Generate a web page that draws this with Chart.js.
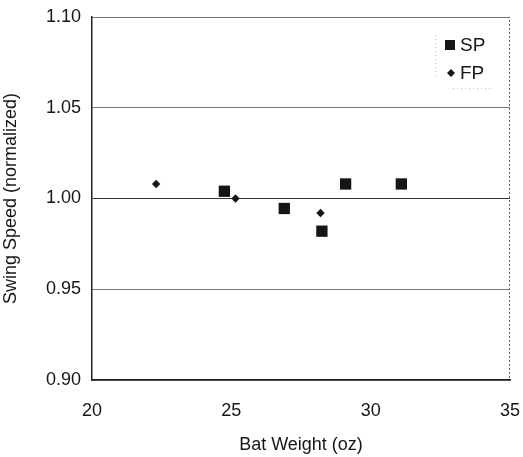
<!DOCTYPE html>
<html>
<head>
<meta charset="utf-8">
<script src="https://cdn.jsdelivr.net/npm/chart.js@4"></script>
<style>
  body { margin: 0; background: #fff; }
  #wrap { width: 523px; height: 457px; }
</style>
</head>
<body>
<div id="wrap"><canvas id="swingChart"></canvas></div>
<script>
// bat weight (oz) vs normalized swing speed
const spWeight = [24.75, 26.9, 28.25, 29.1, 31.1];
const spSpeed = [1.004, 0.9945, 0.982, 1.008, 1.008];
const fpWeight = [22.3, 25.15, 28.2];
const fpSpeed = [1.008, 1.000, 0.992];

const xTicks = [20, 25, 30, 35];
const yTicks = [0.90, 0.95, 1.00, 1.05, 1.10];

const toPoints = (xs, ys) => xs.map((x, i) => ({ x: x, y: ys[i] }));

const ink = '#161616';
const fontFam = '"Liberation Sans", Arial, sans-serif';

// legend drawn inside the plot, top right
const boxLegend = {
  id: 'boxLegend',
  afterDraw(chart) {
    const ctx = chart.ctx;
    const area = chart.chartArea;
    const x0 = area.right - 75, y0 = area.top + 8;
    ctx.save();
    ctx.strokeStyle = '#bbb';
    ctx.setLineDash([1, 3]);
    ctx.lineWidth = 1;
    ctx.beginPath();
    ctx.moveTo(x0 + 0.5, y0 + 10);
    ctx.lineTo(x0 + 0.5, y0 + 54);
    ctx.moveTo(x0 + 18, y0 + 63.5);
    ctx.lineTo(x0 + 55, y0 + 63.5);
    ctx.stroke();
    ctx.setLineDash([]);
    ctx.font = '19px ' + fontFam;
    ctx.textBaseline = 'middle';
    chart.data.datasets.forEach((ds, i) => {
      const cy = y0 + 20 + i * 28;
      ctx.fillStyle = ink;
      if (ds.pointStyle === 'rect') {
        ctx.fillRect(x0 + 10, cy - 5, 10, 10);
      } else {
        ctx.beginPath();
        ctx.moveTo(x0 + 16, cy - 4);
        ctx.lineTo(x0 + 20, cy);
        ctx.lineTo(x0 + 16, cy + 4);
        ctx.lineTo(x0 + 12, cy);
        ctx.closePath();
        ctx.fill();
      }
      ctx.fillText(ds.label, x0 + 25, cy + 1);
    });
    ctx.restore();
  }
};

new Chart(document.getElementById('swingChart'), {
  type: 'scatter',
  data: {
    datasets: [
      {
        label: 'SP',
        data: toPoints(spWeight, spSpeed),
        pointStyle: 'rect',
        pointRadius: 8,
        backgroundColor: ink,
        borderColor: ink,
        borderWidth: 0
      },
      {
        label: 'FP',
        data: toPoints(fpWeight, fpSpeed),
        pointStyle: 'rectRot',
        pointRadius: 4.2,
        backgroundColor: ink,
        borderColor: ink,
        borderWidth: 0
      }
    ]
  },
  options: {
    responsive: true,
    maintainAspectRatio: false,
    animation: false,
    layout: { padding: { top: 17, right: 13, bottom: 1, left: 0 } },
    plugins: {
      legend: { display: false },
      tooltip: { enabled: false }
    },
    scales: {
      x: {
        type: 'linear',
        min: 20,
        max: 35,
        afterBuildTicks: (scale) => { scale.ticks = xTicks.map(v => ({ value: v })); },
        afterFit: (scale) => {
          scale.height = 76;
          scale.paddingLeft = 0;
          scale.paddingRight = 0;
        },
        ticks: {
          color: ink,
          padding: 20,
          maxRotation: 0,
          font: { family: fontFam, size: 18 }
        },
        grid: {
          drawOnChartArea: false,
          drawTicks: false,
          color: '#555'
        },
        border: { color: '#222', width: 1.5 },
        title: {
          display: true,
          text: 'Bat Weight (oz)',
          color: ink,
          padding: { top: 0, bottom: 0 },
          font: { family: fontFam, size: 18 }
        }
      },
      y: {
        type: 'linear',
        min: 0.90,
        max: 1.10,
        afterBuildTicks: (scale) => { scale.ticks = yTicks.map(v => ({ value: v })); },
        afterFit: (scale) => {
          scale.width = 92;
          scale.paddingTop = 0;
          scale.paddingBottom = 0;
        },
        ticks: {
          color: ink,
          padding: 11,
          callback: (v) => v.toFixed(2),
          font: { family: fontFam, size: 18 }
        },
        grid: {
          drawTicks: false,
          color: (c) => (c.tick && c.tick.value === 1.0) ? '#333' : '#777'
        },
        border: { color: '#222', width: 1.5 },
        title: {
          display: true,
          text: 'Swing Speed (normalized)',
          color: ink,
          padding: { top: 0, bottom: 2 },
          font: { family: fontFam, size: 18 }
        }
      }
    }
  },
  plugins: [boxLegend, {
    id: 'frame',
    afterDatasetsDraw(chart) {
      const a = chart.chartArea;
      const ctx = chart.ctx;
      ctx.save();
      ctx.strokeStyle = '#666';
      ctx.setLineDash([2, 2]);
      ctx.beginPath();
      ctx.moveTo(a.left, a.top + 0.5);
      ctx.lineTo(a.right - 0.5, a.top + 0.5);
      ctx.lineTo(a.right - 0.5, a.bottom);
      ctx.stroke();
      ctx.restore();
    }
  }]
});
</script>
</body>
</html>
